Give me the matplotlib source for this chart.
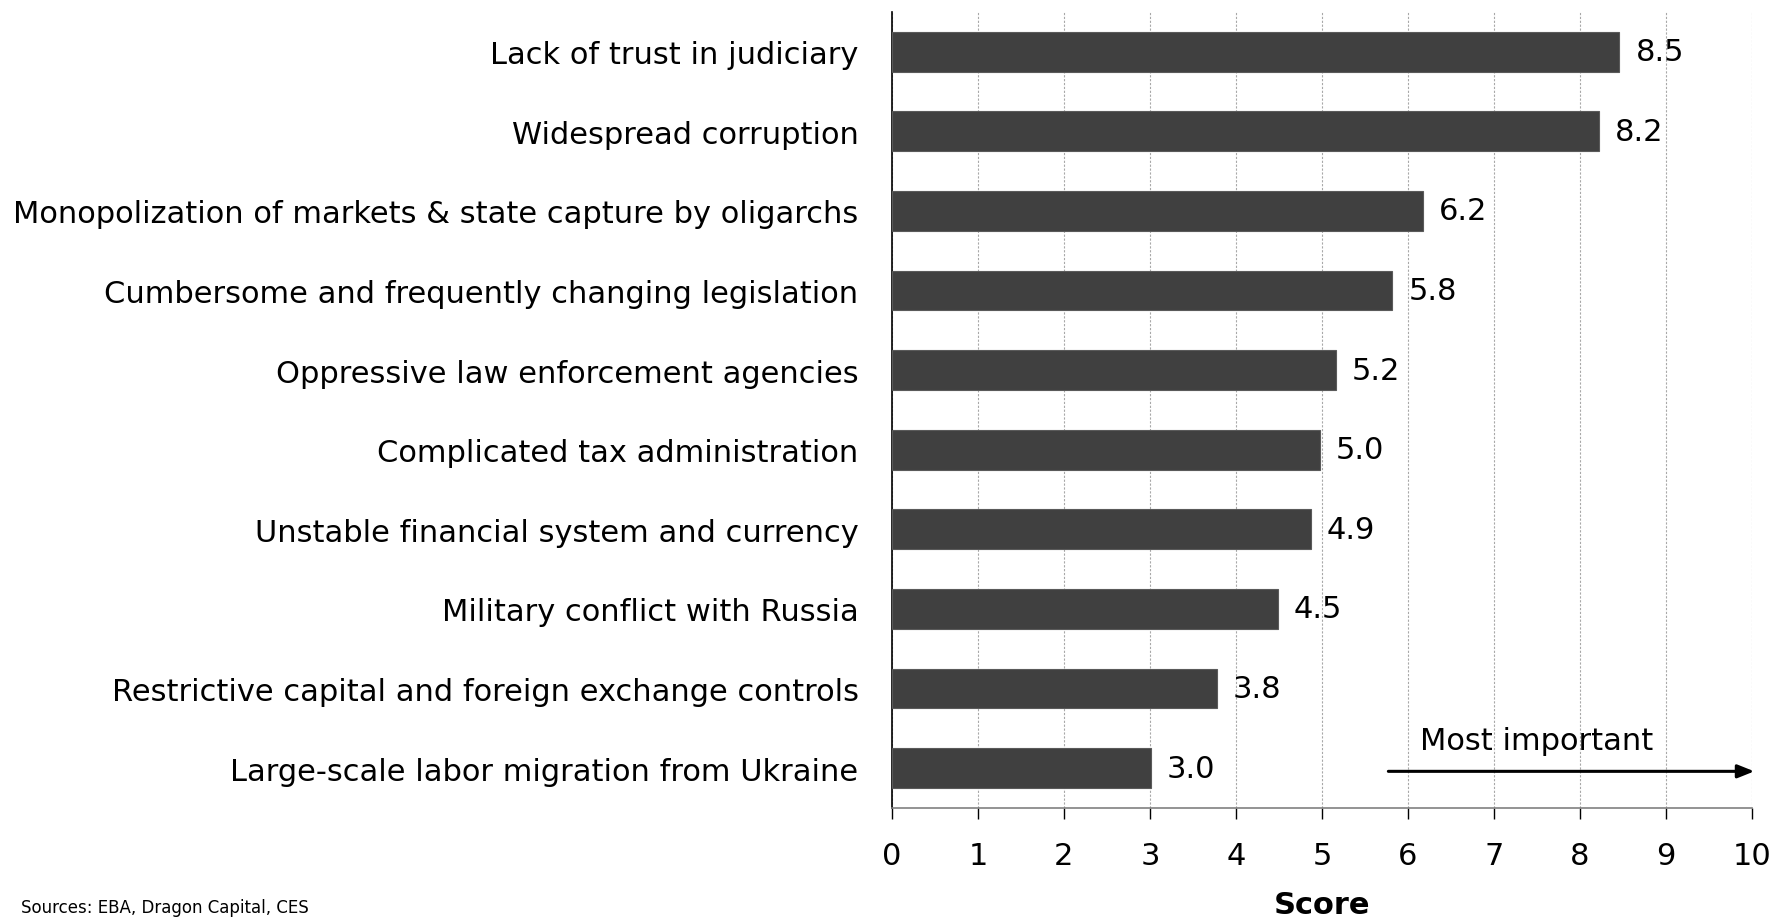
import matplotlib
matplotlib.use('Agg')
import matplotlib.pyplot as plt

# --- data ---
categories = [
    "Lack of trust in judiciary",
    "Widespread corruption",
    "Monopolization of markets & state capture by oligarchs",
    "Cumbersome and frequently changing legislation",
    "Oppressive law enforcement agencies",
    "Complicated tax administration",
    "Unstable financial system and currency",
    "Military conflict with Russia",
    "Restrictive capital and foreign exchange controls",
    "Large-scale labor migration from Ukraine",
]
scores = [8.46, 8.22, 6.17, 5.82, 5.16, 4.98, 4.87, 4.49, 3.78, 3.01]
xticks = list(range(0, 11))
source = "Sources: EBA, Dragon Capital, CES"
# -----------------------------------

plt.rcParams['font.family'] = ['DejaVu Sans']

fig = plt.figure(figsize=(17.75, 9.2), dpi=100)
ax = fig.add_axes([0.5025, 0.1207, 0.4845, 0.8652])

ypos = list(range(len(categories)))
ax.barh(ypos, scores, height=0.5, color='#404040', edgecolor='#5a5a5a', linewidth=0.8, zorder=3)

for y, v in zip(ypos, scores):
    ax.annotate(f"{v:.1f}", xy=(v, y), xytext=(11.5, 0), textcoords='offset points',
                va='center', ha='left', fontsize=22, zorder=4)

ax.set_ylim(len(categories) - 0.5, -0.5)
ax.set_xlim(0, 10)
ax.set_yticks(ypos)
ax.set_yticklabels(categories, fontsize=22)
ax.tick_params(axis='y', length=0, pad=24)
ax.set_xticks(xticks)
ax.set_xticklabels([str(t) for t in xticks], fontsize=22)
ax.tick_params(axis='x', length=8, width=1, direction='out', pad=16)

ax.grid(axis='x', color='#a8a8a8', linestyle=(0, (2, 1.5)), linewidth=0.8, zorder=0)
for s in ['top', 'right']:
    ax.spines[s].set_visible(False)
ax.spines['left'].set_color('black')
ax.spines['left'].set_linewidth(1.2)
ax.spines['bottom'].set_color('#808080')
ax.spines['bottom'].set_linewidth(1.2)

ax.set_xlabel("Score", fontsize=22, fontweight='bold', labelpad=14)

# "Most important" arrow
ax.annotate("", xy=(10.06, 9.04), xytext=(5.74, 9.04),
            arrowprops=dict(arrowstyle='-|>,head_length=1.0,head_width=0.4', color='black', lw=2.2),
            annotation_clip=False)
ax.text(7.5, 8.65, "Most important", ha='center', va='center', fontsize=22)

fig.text(0.012, 0.003, source, ha='left', va='bottom', fontsize=12)

fig.savefig("out.png", dpi=100)
